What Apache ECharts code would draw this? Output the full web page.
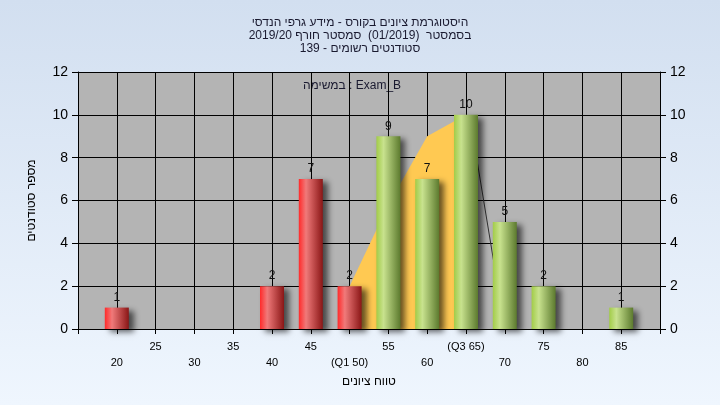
<!DOCTYPE html>
<html>
<head>
<meta charset="utf-8">
<script src="https://cdn.jsdelivr.net/npm/echarts@6/dist/echarts.min.js"></script>
<style>html,body{margin:0;padding:0;}#c{width:720px;height:405px;}</style>
</head>
<body>
<div id="c"></div>
<script>
// ---- data ----
const titleLines = ['היסטוגרמת ציונים בקורס - מידע גרפי הנדסי', 'בסמסטר  (01/2019)  סמסטר חורף 2019/20', 'סטודנטים רשומים - 139'];
const legendText = 'במשימה : Exam_B';
const xAxisName = 'טווח ציונים';
const yAxisName = 'מספר סטודנטים';
const scores = [20, 40, 45, 50, 55, 60, 65, 70, 75, 85];
const counts = [1, 2, 7, 2, 9, 7, 10, 5, 2, 1];
const passMark = 55;
const q1 = 50, q3 = 65;
const iqrX = [50, 55, 60, 65];
const iqrY = [2, 5.8, 9, 10];
const tailX = [65.5, 70];
const tailY = [9.9, 0];
const xMin = 15, xMax = 90, xStep = 5;
const yMin = 0, yMax = 12, yStep = 2;

const redGrad = new echarts.graphic.LinearGradient(0, 0, 1, 0, [
  {offset: 0, color: '#ff2a2a'}, {offset: 0.3, color: '#f07a7a'}, {offset: 1, color: '#8a1616'}]);
const greenGrad = new echarts.graphic.LinearGradient(0, 0, 1, 0, [
  {offset: 0, color: '#a2cc48'}, {offset: 0.3, color: '#c8e28e'}, {offset: 1, color: '#5c7a2e'}]);

const chart = echarts.init(document.getElementById('c'));
const barData = scores.map((s, i) => ({
  value: [s, counts[i]],
  itemStyle: {color: s < passMark ? redGrad : greenGrad}
}));

function xLabel(v) {
  if (v <= xMin || v >= xMax) return '';
  let t = String(v);
  if (v === q1) t = '(Q1 ' + v + ')';
  if (v === q3) t = '(Q3 ' + v + ')';
  return (v / 5) % 2 === 0 ? '\n' + t : t;
}

const yAxisCommon = {
  type: 'value', min: yMin, max: yMax, interval: yStep,
  axisLine: {show: true, lineStyle: {color: '#000', width: 1}},
  axisTick: {show: true, length: 6, lineStyle: {color: '#000'}},
  axisLabel: {color: '#000', fontSize: 14, margin: 10, fontFamily: 'Liberation Sans, Arial'},
};

chart.setOption({
  backgroundColor: new echarts.graphic.LinearGradient(0, 0, 0, 1, [
    {offset: 0, color: '#d2dff0'}, {offset: 1, color: '#eff6fe'}]),
  animation: false,
  title: {
    text: titleLines.join('\n'), left: 'center', top: 11,
    textStyle: {fontSize: 12, fontWeight: 'normal', color: '#1a1a30', lineHeight: 13, fontFamily: 'Liberation Sans, Arial'}
  },
  graphic: [{
    type: 'text', x: 352, y: 86,
    style: {text: legendText, textAlign: 'center', textVerticalAlign: 'middle', fontSize: 12, fill: '#1a1a30', fontFamily: 'Liberation Sans, Arial'}
  }],
  grid: {left: 78, right: 60, top: 72, bottom: 76, show: true, backgroundColor: '#b4b4b4', borderWidth: 0},
  xAxis: {
    type: 'value', min: xMin, max: xMax, interval: xStep,
    name: xAxisName, nameLocation: 'middle', nameGap: 46,
    nameTextStyle: {fontSize: 12, color: '#000', fontFamily: 'Liberation Sans, Arial'},
    axisLine: {show: true, onZero: false, lineStyle: {color: '#000'}},
    axisTick: {show: true, length: 5, lineStyle: {color: '#000'}},
    splitLine: {show: true, lineStyle: {color: '#000', width: 1}},
    axisLabel: {formatter: xLabel, fontSize: 11, lineHeight: 16, margin: 10, color: '#000',
      showMinLabel: true, showMaxLabel: true, interval: 0, fontFamily: 'Liberation Sans, Arial'}
  },
  yAxis: [
    Object.assign({}, yAxisCommon, {
      position: 'left', name: yAxisName, nameLocation: 'middle', nameGap: 40, nameRotate: 90,
      nameTextStyle: {fontSize: 12, color: '#000', fontFamily: 'Liberation Sans, Arial'},
      splitLine: {show: true, lineStyle: {color: '#000', width: 1}}
    }),
    Object.assign({}, yAxisCommon, {position: 'right', splitLine: {show: false}})
  ],
  series: [
    {
      type: 'line', data: iqrX.map((x, i) => [x, iqrY[i]]), symbol: 'none',
      lineStyle: {width: 0}, z: 1,
      areaStyle: {color: '#ffc952', opacity: 1, origin: 'start'}
    },
    {
      type: 'line', data: tailX.map((x, i) => [x, tailY[i]]), symbol: 'none',
      lineStyle: {width: 1, color: '#303030'}, z: 1
    },
    {
      type: 'bar', data: barData, barWidth: 24, z: 3,
      itemStyle: {shadowColor: 'rgba(0,0,0,0.6)', shadowBlur: 6, shadowOffsetX: 5, shadowOffsetY: 3},
      label: {show: true, position: 'top', distance: 4, color: '#111', fontSize: 12,
        fontFamily: 'Liberation Sans, Arial', formatter: p => p.value[1]}
    }
  ]
});
</script>
</body>
</html>
